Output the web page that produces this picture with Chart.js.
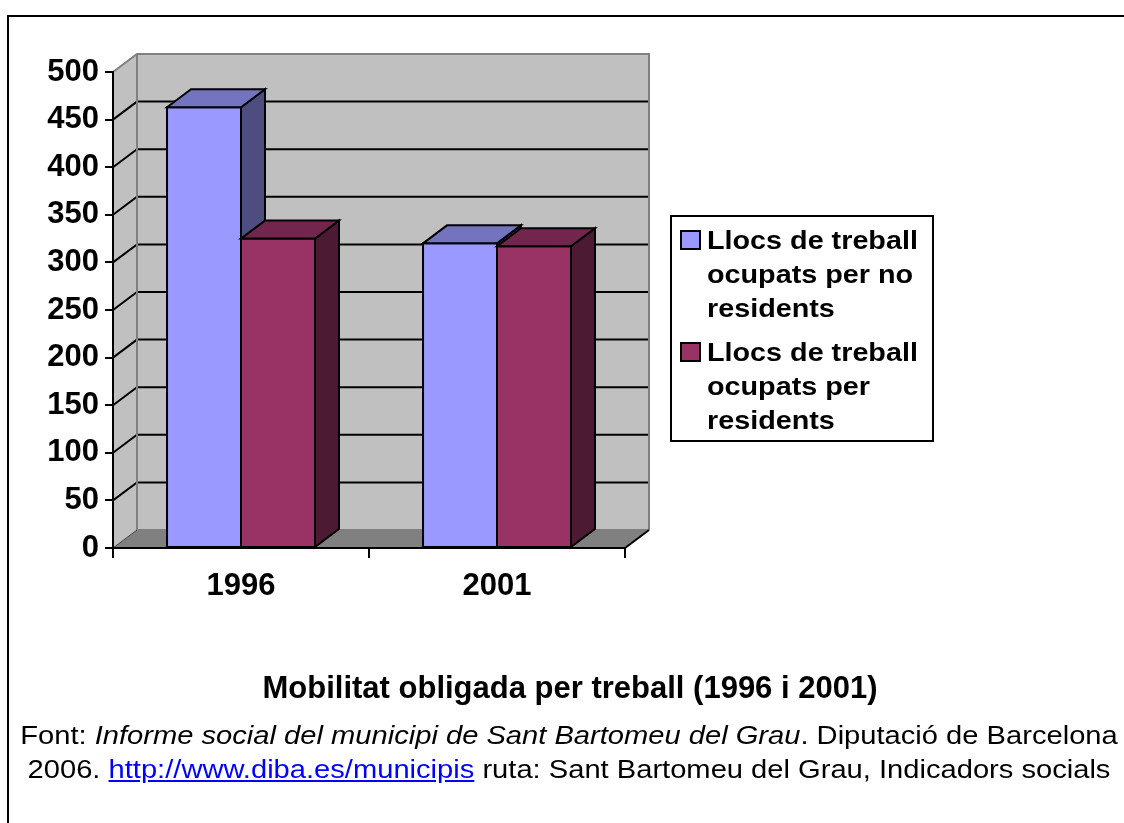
<!DOCTYPE html>
<html>
<head>
<meta charset="utf-8">
<script src="https://cdn.jsdelivr.net/npm/chart.js@4.4.1/dist/chart.umd.min.js"></script>
<style>
  body { margin: 0; background: #fff; }
  #wrap { position: relative; width: 1124px; height: 823px; overflow: hidden; }
  #frame { position: absolute; left: 7px; top: 15px; right: -10px; bottom: -10px;
           border-top: 2px solid #000; border-left: 2px solid #000; }
  canvas { position: absolute; left: 0; top: 0; }
  .txt { position: absolute; left: 0; width: 1140px; text-align: center; color: #000;
         font-family: "Liberation Sans", Arial, sans-serif; }
  #title { top: 672px; font-size: 31px; line-height: 31px; font-weight: bold; }
  #source { top: 718px; left: -1px; font-size: 26px; line-height: 34px;
            transform: scaleX(1.12); transform-origin: 570px 0; }
  #source a { color: #0000ff; text-decoration: underline; }
</style>
</head>
<body>
<div id="wrap">
  <div id="frame"></div>
  <canvas id="mobilitat" width="1124" height="823"></canvas>
  <div id="title" class="txt">Mobilitat obligada per treball (1996 i 2001)</div>
  <div id="source" class="txt">Font: <i>Informe social del municipi de Sant Bartomeu del Grau</i>. Diputació de Barcelona<br>2006. <a href="#">http://www.diba.es/municipis</a> ruta: Sant Bartomeu del Grau, Indicadors socials</div>
</div>
<script>
const years = ['1996', '2001']
const no_residents = [463, 320]
const residents = [325, 317]
const y_max = 500
const y_step = 50
const legend_lines = [
  ['Llocs de treball', 'ocupats per no', 'residents'],
  ['Llocs de treball', 'ocupats per', 'residents']
]

const font_family = '"Liberation Sans", Arial, sans-serif'
const depth_x = 24
const depth_y = -18

// darker shades for the top and side faces
const shades = {
  '#9999FF': { top: '#7373BF', side: '#4D4D80' },
  '#993366': { top: '#73264D', side: '#4D1A33' }
}

function poly(ctx, pts, fill, stroke, width) {
  ctx.beginPath()
  ctx.moveTo(pts[0][0], pts[0][1])
  for (let i = 1; i < pts.length; i++) ctx.lineTo(pts[i][0], pts[i][1])
  ctx.closePath()
  if (fill) { ctx.fillStyle = fill; ctx.fill() }
  if (stroke) { ctx.strokeStyle = stroke; ctx.lineWidth = width || 2; ctx.stroke() }
}

function line(ctx, pts, color, width) {
  ctx.beginPath()
  ctx.moveTo(pts[0][0], pts[0][1])
  for (let i = 1; i < pts.length; i++) ctx.lineTo(pts[i][0], pts[i][1])
  ctx.strokeStyle = color
  ctx.lineWidth = width || 2
  ctx.stroke()
}

const box3d = {
  id: 'box3d',
  beforeDraw(chart) {
    const ctx = chart.ctx
    const a = chart.chartArea
    const ys = chart.scales.y
    const L = a.left, R = a.right, T = a.top, B = a.bottom
    ctx.save()
    // side wall, back wall, floor
    poly(ctx, [[L, T], [L + depth_x, T + depth_y], [L + depth_x, B + depth_y], [L, B]], '#C0C0C0')
    poly(ctx, [[L + depth_x, T + depth_y], [R + depth_x, T + depth_y], [R + depth_x, B + depth_y], [L + depth_x, B + depth_y]], '#C0C0C0')
    poly(ctx, [[L, B], [L + depth_x, B + depth_y], [R + depth_x, B + depth_y], [R, B]], '#808080')
    // gridlines on side and back wall
    ys.ticks.forEach(function(t) {
      if (t.value <= 0 || t.value >= y_max) return
      const y = ys.getPixelForValue(t.value)
      line(ctx, [[L, y], [L + depth_x, y + depth_y], [R + depth_x, y + depth_y]], '#000', 2)
    })
    // wall edges
    line(ctx, [[L, T], [L + depth_x, T + depth_y], [R + depth_x, T + depth_y], [R + depth_x, B + depth_y]], '#808080', 2)
    line(ctx, [[L + depth_x, T + depth_y], [L + depth_x, B + depth_y], [R + depth_x, B + depth_y]], '#808080', 2)
    line(ctx, [[L, B], [L + depth_x, B + depth_y]], '#404040', 1)
    line(ctx, [[R, B], [R + depth_x, B + depth_y]], '#000', 2)
    ctx.restore()
  },
  beforeDatasetsDraw(chart) {
    const ctx = chart.ctx
    const metas = chart.data.datasets.map((d, i) => chart.getDatasetMeta(i))
    ctx.save()
    for (let j = 0; j < chart.data.labels.length; j++) {
      metas.forEach(function(meta, i) {
        const el = meta.data[j]
        const p = el.getProps(['x', 'y', 'base', 'width'], true)
        const color = chart.data.datasets[i].backgroundColor
        const x0 = p.x - p.width / 2, x1 = p.x + p.width / 2
        const top = p.y, bot = p.base
        poly(ctx, [[x0, top], [x1, top], [x1, bot], [x0, bot]], color, '#000', 2)
        poly(ctx, [[x1, top], [x1 + depth_x, top + depth_y], [x1 + depth_x, bot + depth_y], [x1, bot]], shades[color].side, '#000', 2)
        poly(ctx, [[x0, top], [x0 + depth_x, top + depth_y], [x1 + depth_x, top + depth_y], [x1, top]], shades[color].top, '#000', 2)
      })
    }
    ctx.restore()
    return false
  },
  afterDraw(chart) {
    const ctx = chart.ctx
    ctx.save()
    poly(ctx, [[671, 216], [933, 216], [933, 441], [671, 441]], '#fff', '#000', 2)
    const entry_top = [231, 343]
    chart.data.datasets.forEach(function(ds, i) {
      const y0 = entry_top[i]
      poly(ctx, [[681, y0], [700, y0], [700, y0 + 18], [681, y0 + 18]], ds.backgroundColor, '#000', 2)
      ctx.fillStyle = '#000'
      ctx.font = 'bold 25px ' + font_family
      ctx.textBaseline = 'alphabetic'
      legend_lines[i].forEach(function(txt, k) {
        ctx.save()
        ctx.translate(707, y0 + 18 + k * 34)
        ctx.scale(1.15, 1)
        ctx.fillText(txt, 0, 0)
        ctx.restore()
      })
    })
    ctx.restore()
  }
}

const mobilitatCanvas = document.getElementById('mobilitat')
new Chart(
  mobilitatCanvas,
  {
    type: 'bar',
    data: {
      labels: years,
      datasets: [
        {
          label: legend_lines[0].join(' '),
          data: no_residents,
          backgroundColor: '#9999FF',
        },
        {
          label: legend_lines[1].join(' '),
          data: residents,
          backgroundColor: '#993366',
        }
      ]
    },
    options: {
      responsive: false,
      animation: false,
      devicePixelRatio: 1,
      categoryPercentage: 0.578,
      barPercentage: 1.0,
      layout: {
        padding: { left: 0, top: 72, right: 499, bottom: 215 }
      },
      plugins: {
        legend: false,
        tooltip: { enabled: false },
      },
      scales: {
        x: {
          grid: { display: true, drawOnChartArea: false, drawTicks: true, tickLength: 10, color: '#000', lineWidth: 2, offset: true },
          border: { display: true, color: '#000', width: 2 },
          ticks: { color: '#000', padding: 10, font: { family: font_family, size: 31, weight: 'bold' } },
          afterFit: function(scale) { scale.height = 60 }
        },
        y: {
          min: 0,
          max: y_max,
          grid: { display: true, drawOnChartArea: false, drawTicks: true, tickLength: 8, color: '#000', lineWidth: 2 },
          border: { display: true, color: '#000', width: 2 },
          ticks: { stepSize: y_step, color: '#000', padding: 6, font: { family: font_family, size: 31, weight: 'bold' } },
          afterFit: function(scale) { scale.width = 113 }
        }
      }
    },
    plugins: [box3d]
  }
);
</script>
</body>
</html>
